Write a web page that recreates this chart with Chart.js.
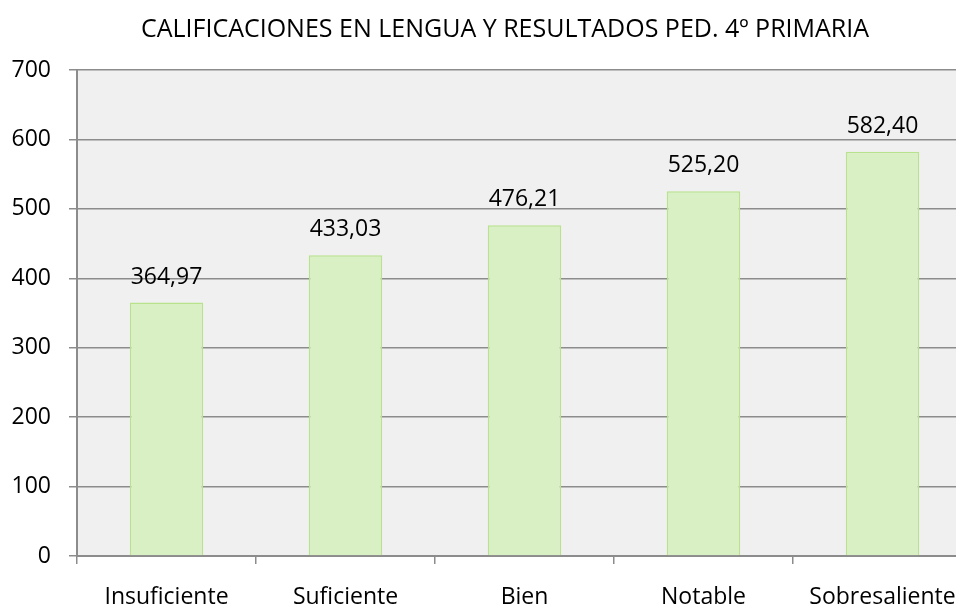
<!DOCTYPE html>
<html lang="es">
<head>
    <meta charset="UTF-8">
    <title>Calificaciones en Lengua</title>
    <script src="https://cdn.jsdelivr.net/npm/chart.js"></script>
    <style>
        html, body {
            margin: 0;
            padding: 0;
            overflow: hidden;
            background: #ffffff;
        }
        #chartContainer {
            width: 1010px;
            height: 608px;
        }
    </style>
</head>
<body>
    <div id="chartContainer">
        <canvas id="notasChart"></canvas>
    </div>

    <script>
        const titulo = 'CALIFICACIONES EN LENGUA Y RESULTADOS PED. 4º PRIMARIA';
        const categorias = ['Insuficiente', 'Suficiente', 'Bien', 'Notable', 'Sobresaliente'];
        const puntuaciones = [364.97, 433.03, 476.21, 525.20, 582.40];
        const etiquetasValor = ['364,97', '433,03', '476,21', '525,20', '582,40'];

        const fuente = "'Open Sans', 'DejaVu Sans', sans-serif";

        // fondo gris del área de trazado
        const fondoPlot = {
            id: 'fondoPlot',
            beforeDraw(chart) {
                const { ctx, chartArea } = chart;
                ctx.save();
                ctx.fillStyle = '#f0f0f0';
                ctx.fillRect(chartArea.left, chartArea.top, chartArea.right - chartArea.left, chartArea.bottom - chartArea.top);
                ctx.restore();
            }
        };

        // título centrado en todo el gráfico original (más ancho que la ventana)
        const tituloPlugin = {
            id: 'tituloPlugin',
            afterDraw(chart) {
                const { ctx } = chart;
                ctx.save();
                ctx.font = "25px " + fuente;
                ctx.fillStyle = '#000000';
                ctx.textAlign = 'center';
                ctx.textBaseline = 'alphabetic';
                ctx.fillText(titulo, chart.width / 2, 37);
                ctx.restore();
            }
        };

        // etiquetas de valor encima de cada barra
        const etiquetas = {
            id: 'etiquetas',
            afterDatasetsDraw(chart) {
                const { ctx } = chart;
                const meta = chart.getDatasetMeta(0);
                ctx.save();
                ctx.font = "23px " + fuente;
                ctx.fillStyle = '#000000';
                ctx.textAlign = 'center';
                ctx.textBaseline = 'alphabetic';
                meta.data.forEach(function(bar, i) {
                    ctx.fillText(etiquetasValor[i], bar.x, bar.y - 19);
                });
                ctx.restore();
            }
        };

        const ctx = document.getElementById('notasChart').getContext('2d');
        const notasChart = new Chart(ctx, {
            type: 'bar',
            data: {
                labels: categorias,
                datasets: [{
                    data: puntuaciones,
                    backgroundColor: '#d9f0c4',
                    borderColor: '#b8e28c',
                    borderWidth: 1.5,
                    categoryPercentage: 1,
                    barPercentage: 0.41
                }]
            },
            options: {
                responsive: true,
                maintainAspectRatio: false,
                animation: false,
                layout: {
                    padding: { left: 0, right: 38, top: 70, bottom: 0 }
                },
                plugins: {
                    legend: { display: false },
                    tooltip: { enabled: false },
                    title: { display: false }
                },
                scales: {
                    x: {
                        grid: {
                            offset: true,
                            drawOnChartArea: false,
                            drawTicks: true,
                            tickLength: 8,
                            color: '#8c8c8c',
                            lineWidth: 1.5
                        },
                        border: { color: '#8c8c8c', width: 2 },
                        ticks: {
                            color: '#000000',
                            font: { family: fuente, size: 23 },
                            padding: 20,
                            maxRotation: 0
                        },
                        afterFit(scale) { scale.height = 52; }
                    },
                    y: {
                        min: 0,
                        max: 700,
                        ticks: {
                            stepSize: 100,
                            color: '#000000',
                            font: { family: fuente, size: 23 },
                            padding: 18
                        },
                        grid: {
                            color: '#8c8c8c',
                            lineWidth: 1.5,
                            tickLength: 8
                        },
                        border: { color: '#8c8c8c', width: 2 },
                        afterFit(scale) { scale.width = 77; }
                    }
                }
            },
            plugins: [fondoPlot, etiquetas, tituloPlugin]
        });
    </script>
</body>
</html>
